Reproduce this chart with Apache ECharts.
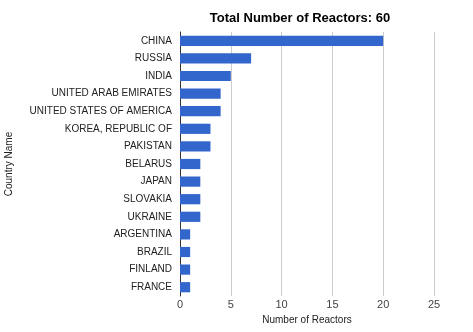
<!DOCTYPE html>
<html><head><meta charset="utf-8">
<script src="https://cdn.jsdelivr.net/npm/echarts@6/dist/echarts.min.js"></script>
<style>html,body{margin:0;padding:0;background:#fff}#c{width:473px;height:332px}</style>
</head><body><div id="c"></div>
<script>
const categories = ["CHINA","RUSSIA","INDIA","UNITED ARAB EMIRATES","UNITED STATES OF AMERICA","KOREA, REPUBLIC OF","PAKISTAN","BELARUS","JAPAN","SLOVAKIA","UKRAINE","ARGENTINA","BRAZIL","FINLAND","FRANCE"];
const reactors = [20,7,5,4,4,3,3,2,2,2,2,1,1,1,1];
const titleText = "Total Number of Reactors: 60";
const xTitle = "Number of Reactors";
const yTitle = "Country Name";

const chart = echarts.init(document.getElementById('c'));
chart.setOption({
  animation:false,
  textStyle:{fontFamily:'Liberation Sans, Arial, sans-serif'},
  title:{text:titleText,left:295,top:7,textAlign:'center',
    textStyle:{fontSize:13,fontWeight:'bold',color:'#000',fontFamily:'Liberation Sans, Arial, sans-serif'}},
  grid:{left:180,right:39,top:32,bottom:36,containLabel:false,outerBoundsMode:'none'},
  xAxis:{type:'value',min:0,max:25,interval:5,
    name:xTitle,nameLocation:'middle',nameGap:19,
    nameTextStyle:{fontSize:10,color:'#222'},
    axisLine:{show:false},axisTick:{show:false},
    axisLabel:{fontSize:11,color:'#444',margin:3},
    splitLine:{lineStyle:{color:'#cccccc'}}},
  yAxis:{type:'category',data:categories,inverse:true,
    name:yTitle,nameLocation:'middle',nameGap:166,nameRotate:90,
    nameTextStyle:{fontSize:10,color:'#222'},
    axisLine:{show:true,onZero:false,lineStyle:{color:'#333',width:1}},
    axisTick:{show:false},
    axisLabel:{fontSize:10,color:'#222',margin:8}},
  series:[{type:'bar',data:reactors,barCategoryGap:'42%',
    itemStyle:{color:'#3366cc'}}]
});
</script></body></html>
